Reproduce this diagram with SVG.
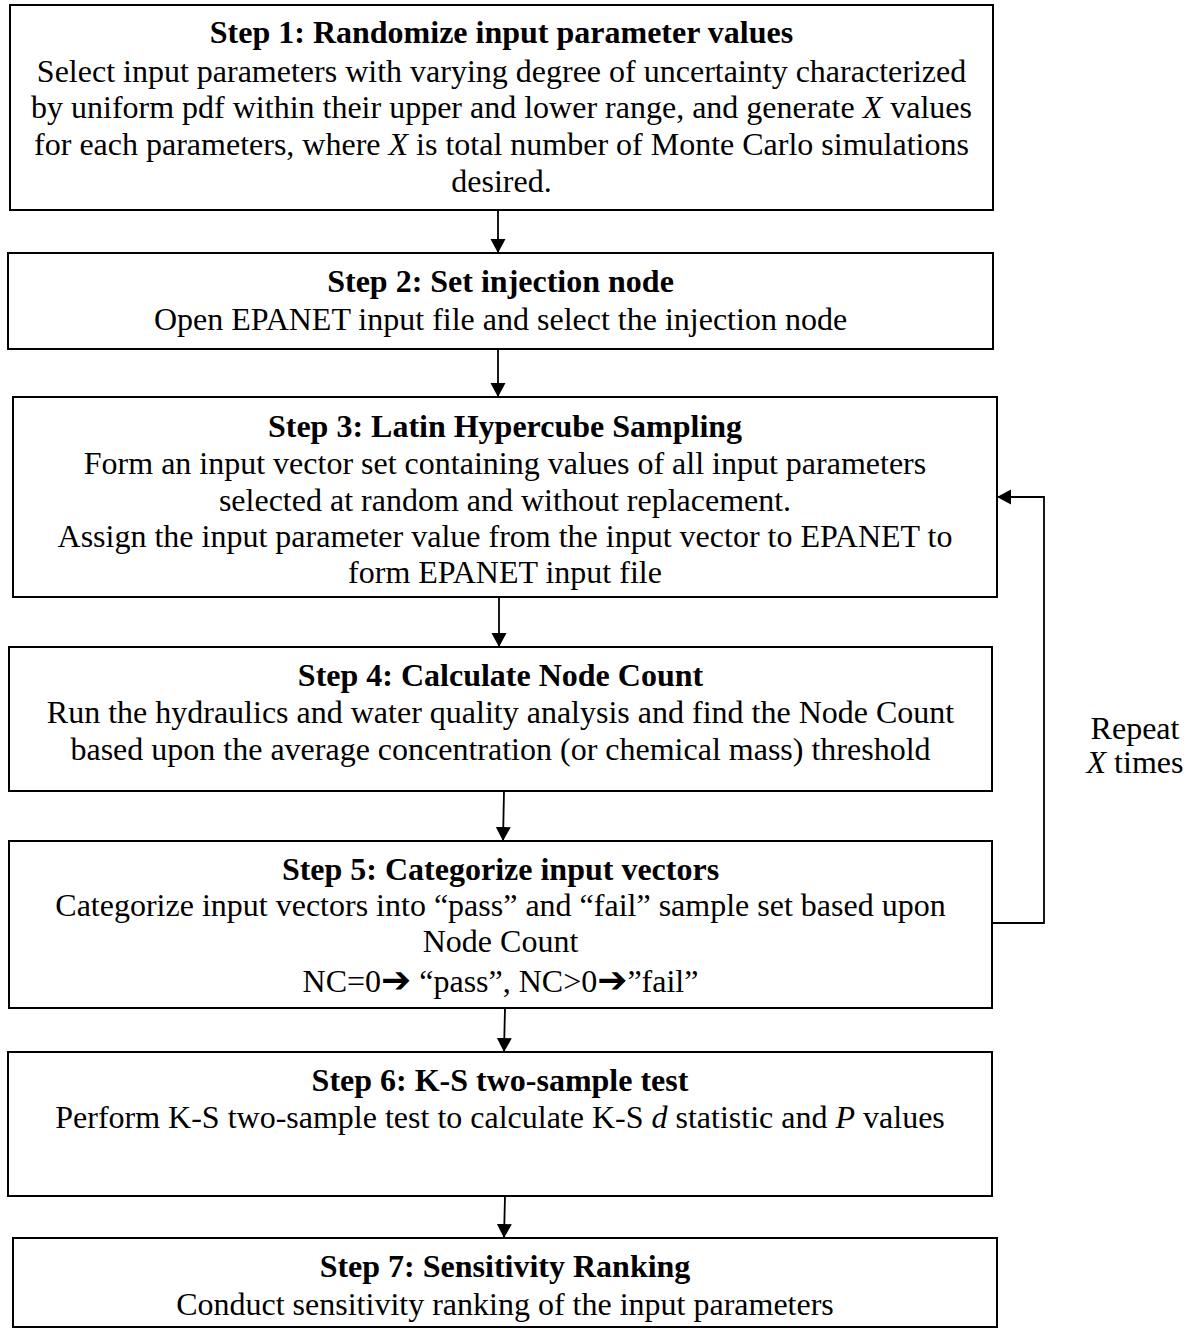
<svg xmlns="http://www.w3.org/2000/svg" width="1196" height="1329" viewBox="0 0 1196 1329">
<defs>
<style>
.box{fill:#fff;stroke:#000;stroke-width:2}
.t{font-family:"Liberation Serif","Times New Roman",serif;font-size:32px;fill:#000;text-anchor:middle}
.b{font-weight:bold}
.i{font-style:italic}
.c{fill:none;stroke:#000;stroke-width:1.8}
.ar{font-family:"DejaVu Sans",sans-serif;font-weight:bold;font-size:36px}
</style>
<marker id="ah" viewBox="0 0 14 16" refX="14" refY="8" markerWidth="14" markerHeight="16" orient="auto" markerUnits="userSpaceOnUse">
<path d="M0,0.5 L14,8 L0,15.5 z" fill="#000"/>
</marker>
</defs>
<rect width="1196" height="1329" fill="#fff"/>
<g id="connectors">
<line class="c" x1="498" y1="210" x2="498" y2="253" marker-end="url(#ah)"/>
<line class="c" x1="498" y1="349" x2="498" y2="397" marker-end="url(#ah)"/>
<line class="c" x1="499" y1="597" x2="499" y2="647" marker-end="url(#ah)"/>
<line class="c" x1="504" y1="791" x2="503" y2="841" marker-end="url(#ah)"/>
<line class="c" x1="505" y1="1008" x2="504" y2="1052" marker-end="url(#ah)"/>
<line class="c" x1="505" y1="1196" x2="504" y2="1238" marker-end="url(#ah)"/>
<polyline class="c" points="992,923 1044,923 1044,497 997,497" marker-end="url(#ah)"/>
</g>
<g id="step1">
<rect class="box" x="10" y="5" width="983" height="205"/>
<text class="t b" x="501.5" y="43">Step 1: Randomize input parameter values</text>
<text class="t" x="501.5" y="82">Select input parameters with varying degree of uncertainty characterized</text>
<text class="t" x="501.5" y="118">by uniform pdf within their upper and lower range, and generate <tspan class="i">X</tspan> values</text>
<text class="t" x="501.5" y="155">for each parameters, where <tspan class="i">X</tspan> is total number of Monte Carlo simulations</text>
<text class="t" x="501.5" y="192">desired.</text>
</g>
<g id="step2">
<rect class="box" x="8" y="253" width="985" height="96"/>
<text class="t b" x="500.5" y="292">Step 2: Set injection node</text>
<text class="t" x="500.5" y="330">Open EPANET input file and select the injection node</text>
</g>
<g id="step3">
<rect class="box" x="13" y="397" width="984" height="200"/>
<text class="t b" x="505" y="437">Step 3: Latin Hypercube Sampling</text>
<text class="t" x="505" y="474">Form an input vector set containing values of all input parameters</text>
<text class="t" x="505" y="511">selected at random and without replacement.</text>
<text class="t" x="505" y="547">Assign the input parameter value from the input vector to EPANET to</text>
<text class="t" x="505" y="583">form EPANET input file</text>
</g>
<g id="step4">
<rect class="box" x="9" y="647" width="983" height="144"/>
<text class="t b" x="500.5" y="686">Step 4: Calculate Node Count</text>
<text class="t" x="500.5" y="723">Run the hydraulics and water quality analysis and find the Node Count</text>
<text class="t" x="500.5" y="760">based upon the average concentration (or chemical mass) threshold</text>
</g>
<g id="step5">
<rect class="box" x="9" y="841" width="983" height="167"/>
<text class="t b" x="500.5" y="880">Step 5: Categorize input vectors</text>
<text class="t" x="500.5" y="916">Categorize input vectors into “pass” and “fail” sample set based upon</text>
<text class="t" x="500.5" y="952">Node Count</text>
<text class="t" x="500.5" y="992">NC=0<tspan class="ar">➔</tspan> “pass”, NC&gt;0<tspan class="ar">➔</tspan>”fail”</text>
</g>
<g id="step6">
<rect class="box" x="8" y="1052" width="984" height="144"/>
<text class="t b" x="500" y="1091">Step 6: K-S two-sample test</text>
<text class="t" x="500" y="1128">Perform K-S two-sample test to calculate K-S <tspan class="i">d</tspan> statistic and <tspan class="i">P</tspan> values</text>
</g>
<g id="step7">
<rect class="box" x="13" y="1238" width="984" height="89"/>
<text class="t b" x="505" y="1277">Step 7: Sensitivity Ranking</text>
<text class="t" x="505" y="1315">Conduct sensitivity ranking of the input parameters</text>
</g>
<g id="loop-label">
<text class="t" x="1135" y="739">Repeat</text>
<text class="t" x="1135" y="773"><tspan class="i">X</tspan> times</text>
</g>
</svg>
